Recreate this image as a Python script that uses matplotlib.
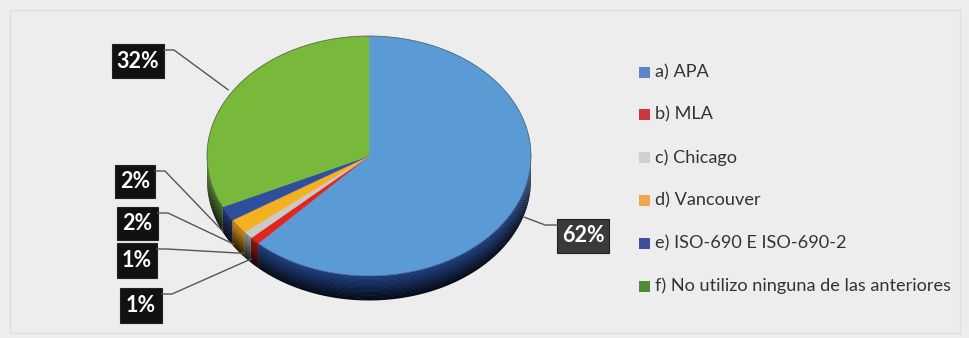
import matplotlib
matplotlib.use('Agg')
import matplotlib.pyplot as plt
from matplotlib.patches import Polygon, Rectangle
from matplotlib.colors import to_rgb
import numpy as np

categorias = ['a) APA', 'b) MLA', 'c) Chicago', 'd) Vancouver',
              'e) ISO-690 E ISO-690-2', 'f) No utilizo ninguna de las anteriores']
porcentajes = [62, 1, 1, 2, 2, 32]
etiquetas = ['62%', '1%', '1%', '2%', '2%', '32%']

colores_cara = ['#5b9bd5', '#e3261c', '#c9c9c9', '#f4b021', '#2e4f9e', '#78b83a']
colores_lado = ['#1f3f82', '#8e1510', '#8c8c8c', '#d08a10', '#1c2f68', '#3f6e1c']
colores_leyenda = ['#5b87c4', '#c8383c', '#cfcfcf', '#f2a64c', '#3e4f9c', '#4f8c34']

# caja de cada etiqueta: (x, y, ancho, alto)
cajas = [(557, 219, 52, 34), (120, 288, 42, 35), (117, 243, 40, 35),
         (117, 207, 41, 33), (115, 165, 40, 33), (112, 44, 52, 34)]

W, H = 969, 338
cx, cy, rx, ry, prof = 369, 156, 162, 120, 24

fig = plt.figure(figsize=(W / 100, H / 100), dpi=100)
fig.patch.set_facecolor('#ecedec')
ax = fig.add_axes([0, 0, 1, 1])
ax.set_xlim(0, W)
ax.set_ylim(H, 0)
ax.axis('off')

# marco tenue
ax.plot([10, 960, 960, 10, 10], [10, 10, 333, 333, 10], color='#dedede', lw=1)


def arco(t1, t2, dy=0, n=80):
    t = np.radians(np.linspace(t1, t2, n))
    return np.column_stack([cx + rx * np.cos(t), cy - ry * np.sin(t) + dy])


def oscurecer(c, f):
    r, g, b = to_rgb(c)
    return (r * f, g * f, b * f)


# angulos de cada porcion, en sentido horario desde arriba
angulos = []
acum = 90.0
for p in porcentajes:
    angulos.append((acum, acum - 3.6 * p))
    acum -= 3.6 * p

# pared lateral (solo la mitad delantera), con degradado hacia abajo
bandas = 10
for (t1, t2), col in zip(angulos, colores_lado):
    a, b = max(t2, -180), min(t1, 0)
    if a >= b:
        continue
    for k in range(bandas):
        f = 0.95 - 0.75 * k / (bandas - 1)
        sup = arco(a, b, prof * k / bandas)
        inf = arco(b, a, prof * (k + 1) / bandas + 0.5)
        ax.add_patch(Polygon(np.vstack([sup, inf]), closed=True,
                             facecolor=oscurecer(col, f), edgecolor='none'))

# cara superior
for (t1, t2), col in zip(angulos, colores_cara):
    pts = np.vstack([[cx, cy], arco(t1, t2)])
    ax.add_patch(Polygon(pts, closed=True, facecolor=col, edgecolor=col, lw=0.3))

borde = arco(0, 360, n=300)
ax.plot(borde[:, 0], borde[:, 1], color='#3a3a3a', lw=0.6, alpha=0.6)

# etiquetas con guias
for i, ((t1, t2), txt, (bx, by, bw, bh)) in enumerate(zip(angulos, etiquetas, cajas)):
    tm = np.radians((t1 + t2) / 2)
    px = cx + rx * 1.03 * np.cos(tm)
    py = cy - ry * 1.03 * np.sin(tm)
    if np.sin(tm) < 0:
        py += prof * 0.65
    fondo = '#3a3a3a' if i == 0 else '#111111'
    if bx > cx:
        x0, x1 = bx, bx - 12
    else:
        x0, x1 = bx + bw, bx + bw + 10
    ax.plot([x0, x1, px], [by + 6, by + 6, py], color='#555555', lw=1)
    ax.add_patch(Rectangle((bx, by), bw, bh, facecolor=fondo, edgecolor='#222222', lw=0.8))
    ax.text(bx + bw / 2, by + bh / 2, txt, ha='center', va='center',
            color='white', fontsize=15.5, fontweight='bold', family='Lato')

# leyenda
for i, (nom, col) in enumerate(zip(categorias, colores_leyenda)):
    y = 72 + 42.8 * i
    ax.add_patch(Rectangle((639, y - 5.5), 11, 11, facecolor=col, edgecolor='none'))
    ax.text(655, y, nom, ha='left', va='center', fontsize=13.1,
            color='#333333', family='Lato')

fig.savefig('out.png', dpi=100, facecolor=fig.get_facecolor())
